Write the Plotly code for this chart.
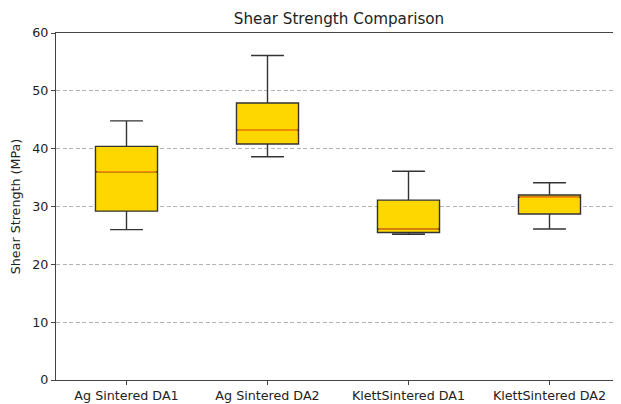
import plotly.graph_objects as go

categories = ["Ag Sintered DA1", "Ag Sintered DA2", "KlettSintered DA1", "KlettSintered DA2"]
lower_whisker = [26.0, 38.6, 25.2, 26.1]
q1_values = [29.2, 40.8, 25.5, 28.7]
median_values = [36.0, 43.2, 26.1, 31.6]
q3_values = [40.4, 47.9, 31.1, 32.0]
upper_whisker = [44.8, 56.1, 36.1, 34.1]
y_ticks = [0, 10, 20, 30, 40, 50, 60]

positions = list(range(1, len(categories) + 1))
box_width = 0.44

fig = go.Figure()
fig.add_trace(go.Box(
    x=positions,
    q1=q1_values,
    median=median_values,
    q3=q3_values,
    lowerfence=lower_whisker,
    upperfence=upper_whisker,
    width=box_width,
    whiskerwidth=0.53,
    fillcolor="#FFD700",
    line=dict(color="#333333", width=1.4),
    boxpoints=False,
    showlegend=False,
    hoverinfo="skip",
))

mx, my = [], []
for p, m in zip(positions, median_values):
    mx += [p - box_width / 2 + 0.01, p + box_width / 2 - 0.01, None]
    my += [m, m, None]
fig.add_trace(go.Scatter(x=mx, y=my, mode="lines",
                         line=dict(color="#FF8C00", width=1.6),
                         showlegend=False, hoverinfo="skip"))

W, H = 613, 396
fig.update_layout(
    width=W, height=H,
    margin=dict(l=48, r=1, t=25, b=21),
    paper_bgcolor="white", plot_bgcolor="white",
    font=dict(family="DejaVu Sans", size=12.7, color="#222222"),
    title=dict(text="Shear Strength Comparison", x=331 / W, xanchor="center",
               y=1 - 11 / H, yanchor="middle", font=dict(size=15.2, color="#222222")),
)
fig.update_xaxes(
    range=[0.5, 4.5], tickvals=positions, ticktext=categories,
    showgrid=False, zeroline=False,
    showline=True, linecolor="#444444", linewidth=1.3, mirror=True,
    ticks="outside", ticklen=4, tickcolor="#444444",
)
fig.update_yaxes(
    range=[0, 60], tickvals=y_ticks,
    title=dict(text="Shear Strength (MPa)", font=dict(size=12.7), standoff=8),
    showgrid=True, gridcolor="#b3b3b3", griddash="4px,2.5px", gridwidth=1,
    zeroline=False,
    showline=True, linecolor="#444444", linewidth=1.3,
    ticks="outside", ticklen=4, tickcolor="#444444",
)

fig.write_html("out.html")
